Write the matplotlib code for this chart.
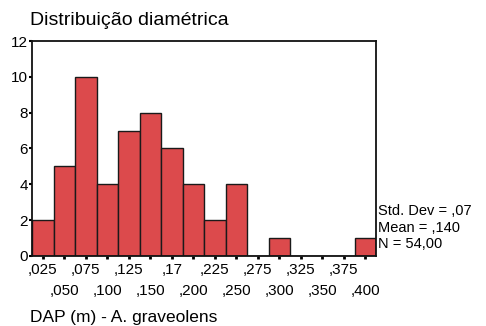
import numpy as np
import matplotlib
matplotlib.use('Agg')
from matplotlib import pyplot as plt

plt.rcParams['font.family'] = ['Liberation Sans', 'DejaVu Sans']

# class midpoints (m) and tree counts
centers = [0.025, 0.050, 0.075, 0.100, 0.125, 0.150, 0.175, 0.200,
           0.225, 0.250, 0.275, 0.300, 0.325, 0.350, 0.375, 0.400]
counts = [2, 5, 10, 4, 7, 8, 6, 4, 2, 4, 0, 1, 0, 0, 0, 1]
tick_labels = [',025', ',050', ',075', ',100', ',125', ',150', ',17', ',200',
               ',225', ',250', ',275', ',300', ',325', ',350', ',375', ',400']
stats_lines = ['Std. Dev = ,07', 'Mean = ,140', 'N = 54,00']
width = 0.025

fig = plt.figure(figsize=(4.86, 3.26), dpi=100)
ax = fig.add_axes([0.066, 0.215, 0.708, 0.659])

ax.bar(centers, counts, width=width, color='#dc4a4c', edgecolor='#1a1a1a', linewidth=1.0)

ax.set_xlim(centers[0] - width / 2, centers[-1] + width / 2)
ax.set_ylim(0, 12)
ax.set_yticks(range(0, 13, 2))
ax.tick_params(axis='y', direction='out', length=2, width=1.5, pad=1, labelsize=11)

# two rows of labels: upper row on major ticks, lower row on minor ticks
ax.set_xticks(centers[0::2])
ax.set_xticklabels(tick_labels[0::2])
ax.set_xticks(centers[1::2], minor=True)
ax.set_xticklabels(tick_labels[1::2], minor=True)
ax.tick_params(axis='x', which='major', direction='out', length=2, width=2, pad=3, labelsize=11)
ax.tick_params(axis='x', which='minor', direction='out', length=2, width=2, pad=18, labelsize=11)

for s in ax.spines.values():
    s.set_linewidth(1.3)
    s.set_color('#111111')

fig.text(0.062, 0.91, 'Distribuição diamétrica', fontsize=14, ha='left', va='bottom')
fig.text(0.062, 0.004, 'DAP (m) - A. graveolens', fontsize=12.5, ha='left', va='bottom')

for i, line in enumerate(stats_lines):
    fig.text(0.778, 0.352 - i * 0.05, line, fontsize=10.5, ha='left', va='center')

fig.savefig('out.png', dpi=100)
